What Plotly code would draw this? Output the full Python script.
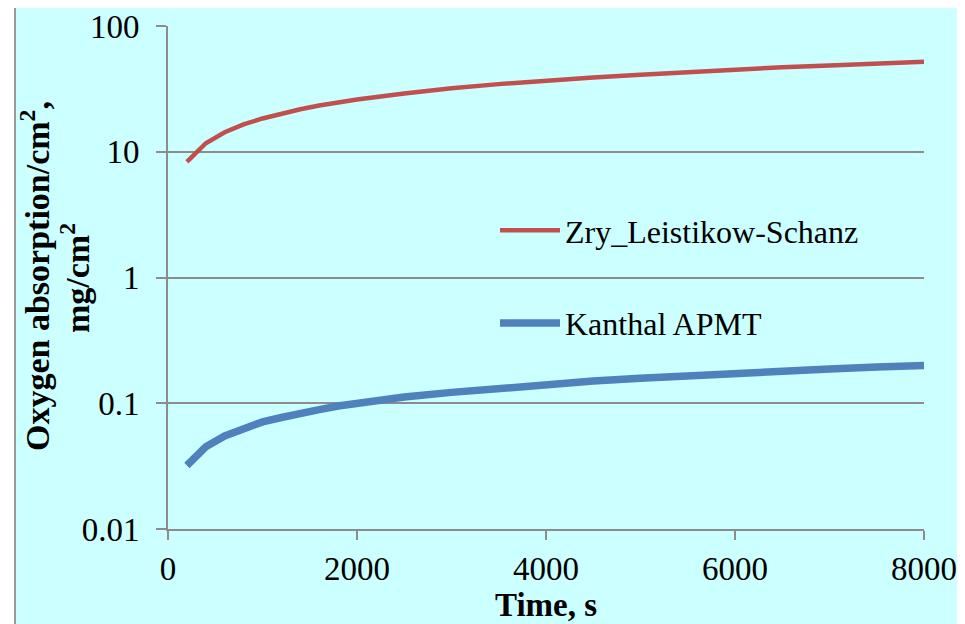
import plotly.graph_objects as go

time_s = [200, 400, 600, 800, 1000, 1200, 1400, 1600, 1800, 2000, 2500, 3000,
          3500, 4000, 4500, 5000, 5500, 6000, 6500, 7000, 7500, 8000]
zry_ls = [8.3, 11.7, 14.3, 16.5, 18.4, 20.2, 21.8, 23.3, 24.7, 26.0, 29.0, 32.0,
          34.5, 37.0, 39.0, 41.0, 43.0, 45.0, 47.0, 48.5, 50.0, 52.0]
kanthal = [0.032, 0.045, 0.055, 0.063, 0.071, 0.077, 0.084, 0.089, 0.095, 0.100,
           0.112, 0.122, 0.132, 0.141, 0.150, 0.158, 0.166, 0.173, 0.180, 0.187,
           0.194, 0.200]
x_ticks = [0, 2000, 4000, 6000, 8000]
y_ticks = [0.01, 0.1, 1, 10, 100]
y_ticklabels = ["0.01", "0.1", "1", "10", "100"]

FONT = "Liberation Serif"
GRID = "#8c8c8c"

fig = go.Figure()
fig.add_trace(go.Scatter(x=time_s, y=zry_ls, mode="lines", name="Zry_Leistikow-Schanz",
                         legendgroup="a", line=dict(color="#C0504D", width=4.5)))
fig.add_trace(go.Scatter(x=time_s, y=kanthal, mode="lines", name="Kanthal APMT",
                         legendgroup="b", line=dict(color="#4F81BD", width=7.5)))

OFF = 8  # page body margin
W, H = 965, 624
L, R, T, B = 168, 924, 26, 529
pw, ph = R - L, B - T

def px(x):
    return (x - L) / pw

def py(y):
    return (B - y) / ph

title_font = dict(family=FONT, size=34, color="black")

fig.update_layout(
    width=W - OFF, height=H - OFF,
    margin=dict(l=L - OFF, r=W - R, t=T - OFF, b=H - B, autoexpand=False),
    paper_bgcolor="white",
    plot_bgcolor="white",
    font=dict(family=FONT, size=33, color="black"),
    showlegend=True,
    legend=dict(x=px(495), y=py(203), xanchor="left", yanchor="top",
                bgcolor="rgba(0,0,0,0)", font=dict(family=FONT, size=32),
                tracegroupgap=48, traceorder="grouped", itemwidth=60),
    shapes=[dict(type="rect", xref="paper", yref="paper", layer="below",
                 x0=px(15), x1=px(990), y0=py(640), y1=py(7),
                 fillcolor="#CCFFFF", line=dict(color="#9a9a9a", width=2))],
    annotations=[
        dict(text="<b>Oxygen absorption/cm<sup>2</sup>,</b>",
             xref="paper", yref="paper", x=px(35), y=py(276),
             xanchor="center", yanchor="middle", textangle=-90,
             showarrow=False, font=title_font),
        dict(text="<b>mg/cm<sup>2</sup></b>",
             xref="paper", yref="paper", x=px(75), y=py(278),
             xanchor="center", yanchor="middle", textangle=-90,
             showarrow=False, font=title_font),
    ],
)
fig.update_xaxes(range=[0, 8000], tickvals=x_ticks, ticks="outside", ticklen=9,
                 tickcolor=GRID, tickwidth=2, showline=True, linecolor=GRID, linewidth=2,
                 showgrid=False, zeroline=False, ticklabelstandoff=0,
                 tickfont=dict(family=FONT, size=33),
                 title=dict(text="<b>Time, s</b>", standoff=6,
                            font=dict(family=FONT, size=33)))
fig.update_yaxes(type="log", range=[-2, 2], tickvals=y_ticks, ticktext=y_ticklabels,
                 ticks="outside", ticklen=10, tickcolor=GRID, tickwidth=2,
                 showline=True, linecolor=GRID, linewidth=2,
                 showgrid=True, gridcolor=GRID, gridwidth=2, zeroline=False,
                 ticklabelstandoff=10, tickfont=dict(family=FONT, size=33))

fig.write_html("out.html")
